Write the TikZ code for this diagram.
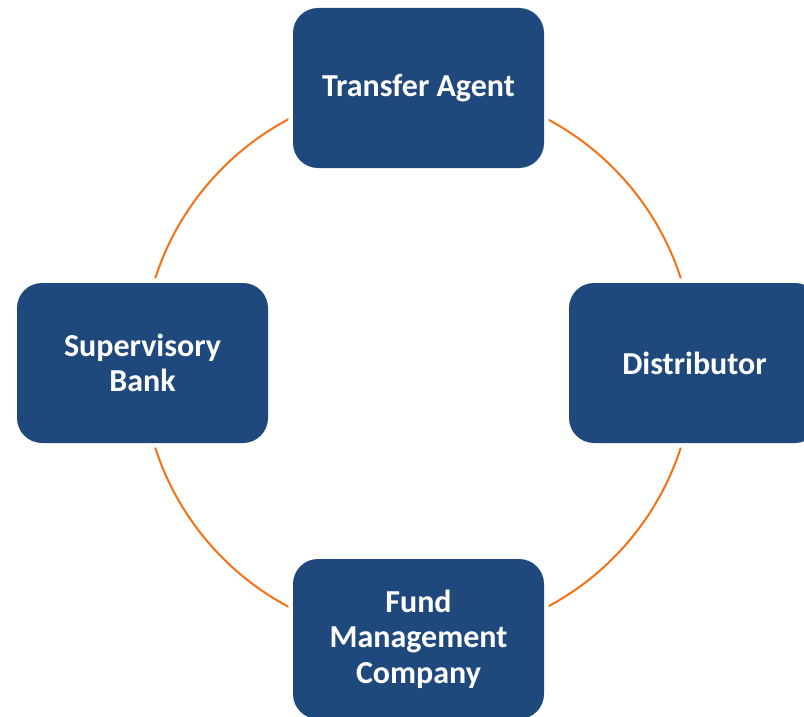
\documentclass[tikz,border=0pt]{standalone}
\usepackage{fontspec}
\setmainfont{Carlito}
\definecolor{boxblue}{RGB}{31,73,125}
\definecolor{ringorange}{RGB}{247,112,22}
\begin{document}
\begin{tikzpicture}[x=0.75pt,y=-0.75pt,line cap=round,
	party/.style={fill=boxblue,rounded corners=18.75pt,minimum width=188.25pt,minimum height=120pt,
		text=white,align=center,font=\fontsize{24}{26.5}\selectfont\bfseries,
		preaction={draw=white,line width=7pt}},
	ring/.style={draw=ringorange,line width=1.5pt}]
	\useasboundingbox (0,0) rectangle (804,717);
	\coordinate (hub) at (418,363);
	\draw[ring] (hub) circle[radius=276];
	\node[party] (ta) at (418.5,88) {Transfer Agent};
	\node[party] (dist) at (694.5,363) {Distributor};
	\node[party] (fmc) at (418.5,639) {Fund\\Management\\Company};
	\node[party] (sb) at (142.5,363) {Supervisory\\Bank};
\end{tikzpicture}
\end{document}
